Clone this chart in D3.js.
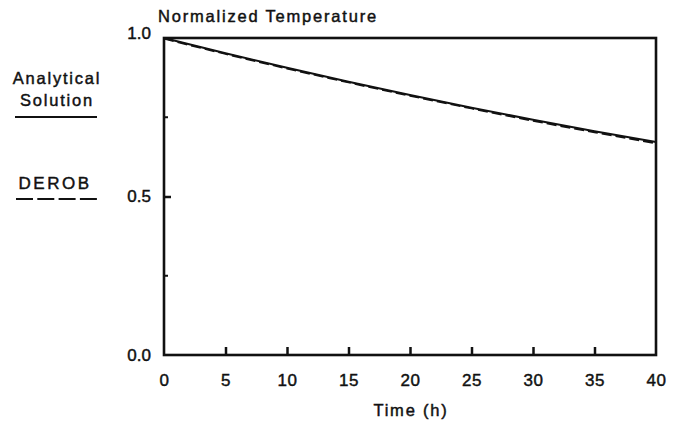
<!DOCTYPE html>
<html><head><meta charset="utf-8">
<script src="https://cdn.jsdelivr.net/npm/d3@7"></script>
<style>body{margin:0;background:#fff}svg{display:block}text{font-family:"Liberation Sans",Arial,sans-serif;fill:#111;stroke:#111;stroke-width:0.45px}</style>
</head><body>
<svg id="c" width="686" height="424"></svg>
<script>
const time = [0, 5, 10, 15, 20, 25, 30, 35, 40];
const analytical = [1.0, 0.952, 0.906, 0.862, 0.820, 0.780, 0.742, 0.706, 0.672];
const derob = [0.998, 0.950, 0.904, 0.860, 0.818, 0.778, 0.739, 0.703, 0.668];
const xTicks = [0, 5, 10, 15, 20, 25, 30, 35, 40];
const yTicks = [0.0, 0.5, 1.0];
const yMinorTicks = [0.25, 0.75];

const svg = d3.select("#c");
const L = 164, R = 656, T = 38, B = 355;
const x = d3.scaleLinear().domain([0, 40]).range([L, R]);
const y = d3.scaleLinear().domain([0, 1]).range([B, T]);
const FF = "Liberation Sans, Arial, sans-serif";

// frame
svg.append("rect").attr("x", L).attr("y", T).attr("width", R - L).attr("height", B - T)
  .attr("fill", "none").attr("stroke", "#111").attr("stroke-width", 2.6);

// x ticks (inward)
const xa = svg.append("g").attr("transform", `translate(0,${B})`)
  .call(d3.axisBottom(x).tickValues(xTicks).tickSizeInner(-8).tickSizeOuter(0).tickPadding(19).tickFormat(d3.format("d")));
xa.select(".domain").remove();
xa.selectAll(".tick line").attr("stroke", "#111").attr("stroke-width", 2.5)
  .filter(d => d === 0 || d === 40).remove();
xa.selectAll(".tick text").attr("font-size", 17).attr("font-family", FF).attr("fill", "#111").attr("letter-spacing", 0.5);

// y axis
const ya = svg.append("g").attr("transform", `translate(${L},0)`)
  .call(d3.axisLeft(y).tickValues(yTicks).tickSizeInner(-7).tickSizeOuter(0).tickPadding(13).tickFormat(d3.format(".1f")));
ya.select(".domain").remove();
ya.selectAll(".tick line").attr("stroke", "#111").attr("stroke-width", 2.5)
  .filter(d => d === 0 || d === 1).remove();
ya.selectAll(".tick text").attr("font-size", 17).attr("font-family", FF).attr("fill", "#111");
ya.selectAll(".tick text").filter(d => d === 1).attr("dy", "0.05em");
svg.append("g").selectAll("line").data(yMinorTicks).join("line")
  .attr("x1", L).attr("x2", L + 4).attr("y1", d => y(d)).attr("y2", d => y(d))
  .attr("stroke", "#111").attr("stroke-width", 2);

// lines
const line = d3.line().x((d, i) => x(time[i])).y(d => y(d)).curve(d3.curveMonotoneX);
svg.append("path").datum(analytical).attr("d", line).attr("fill", "none").attr("stroke", "#111").attr("stroke-width", 2);
svg.append("path").datum(derob).attr("d", line).attr("fill", "none").attr("stroke", "#111").attr("stroke-width", 2).attr("stroke-dasharray", "10,4");

// titles
svg.append("text").attr("x", 158).attr("y", 22).attr("font-size", 16.5).attr("letter-spacing", 1.8).text("Normalized Temperature");
svg.append("text").attr("x", x(20) + 1).attr("y", 416).attr("text-anchor", "middle").attr("font-size", 16.5).attr("letter-spacing", 1.8).text("Time (h)");

// legend
svg.append("text").attr("x", 57).attr("y", 84).attr("text-anchor", "middle").attr("font-size", 16.5).attr("letter-spacing", 1.8).text("Analytical");
svg.append("text").attr("x", 57).attr("y", 106).attr("text-anchor", "middle").attr("font-size", 16.5).attr("letter-spacing", 1.8).text("Solution");
svg.append("line").attr("x1", 15).attr("x2", 97).attr("y1", 117).attr("y2", 117).attr("stroke", "#111").attr("stroke-width", 2);
svg.append("text").attr("x", 55).attr("y", 189).attr("text-anchor", "middle").attr("font-size", 17).attr("letter-spacing", 2.5).text("DEROB");
svg.append("line").attr("x1", 16).attr("x2", 97).attr("y1", 199).attr("y2", 199).attr("stroke", "#111").attr("stroke-width", 2).attr("stroke-dasharray", "17,4.3");
</script>
</body></html>
